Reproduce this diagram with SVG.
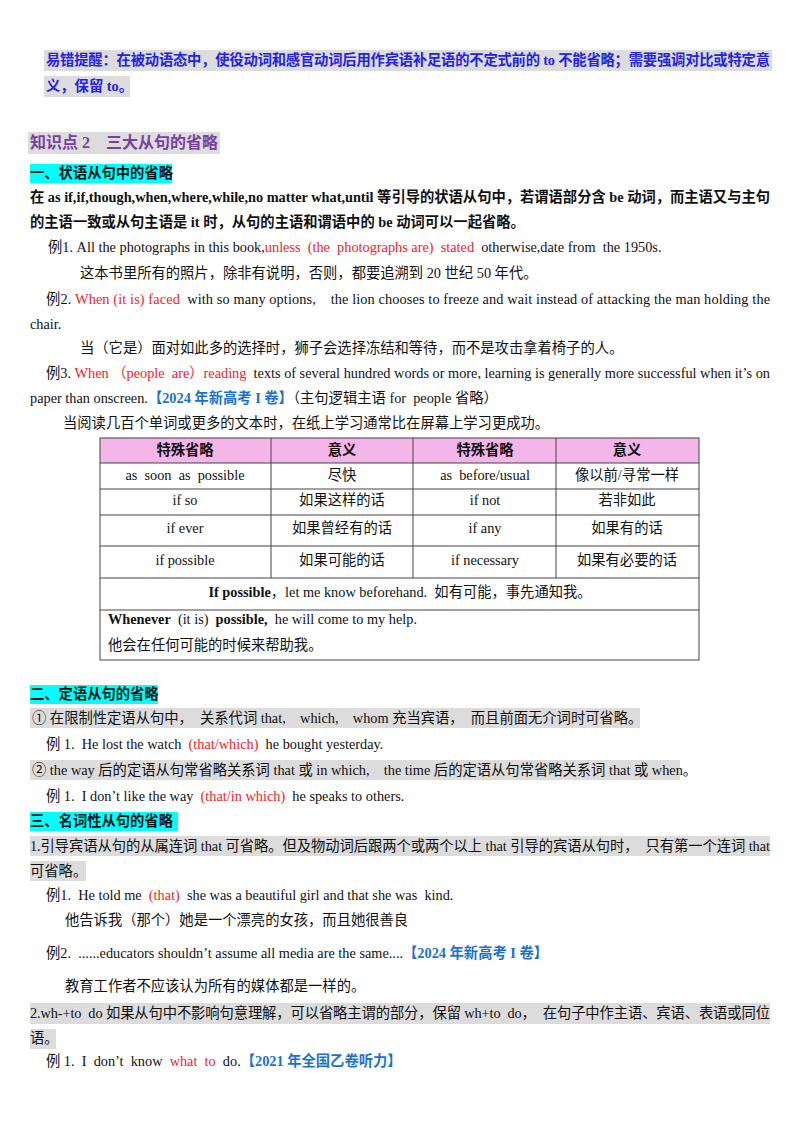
<svg xmlns="http://www.w3.org/2000/svg" width="800" height="1132" viewBox="0 0 800 1132">
<style>
text{font-family:"Liberation Serif","Noto Sans CJK SC",serif;font-size:14.3px;fill:#111;white-space:pre}
.b{font-weight:bold}
.r{fill:#e8262a}
.bl{fill:#1a73c8;font-weight:bold}
.hl{fill:#dcdcdc}
.cy{fill:#00ffff}
.c{text-anchor:middle}
.cell{fill:none;stroke:#444;stroke-width:1}
</style>
<rect width="800" height="1132" fill="#fff"/>
<g id="tip">
<rect class="hl" x="44" y="50" width="728" height="21"/>
<rect class="hl" x="44" y="76" width="86" height="21"/>
<text x="46" y="65" class="b" style="fill:#2323e0" textLength="724" lengthAdjust="spacing">易错提醒：在被动语态中，使役动词和感官动词后用作宾语补足语的不定式前的 to 不能省略；需要强调对比或特定意</text>
<text x="46" y="91" class="b" style="fill:#2323e0">义，保留 to。</text>
</g>
<g id="title">
<rect class="hl" x="28" y="132" width="192" height="22"/>
<text x="30" y="148" class="b" style="fill:#7b3fa0;font-size:16px">知识点 2　三大从句的省略</text>
</g>
<g id="s1">
<rect class="cy" x="30" y="164" width="142" height="19"/>
<text x="30" y="178" class="b">一、状语从句中的省略</text>
<text x="30" y="202" class="b" textLength="740" lengthAdjust="spacing">在 as if,if,though,when,where,while,no matter what,until 等引导的状语从句中，若谓语部分含 be 动词，而主语又与主句</text>
<text x="30" y="227" class="b">的主语一致或从句主语是 it 时，从句的主语和谓语中的 be 动词可以一起省略。</text>
<text x="48" y="252">例1. All the photographs in this book,<tspan class="r">unless  (the  photographs are)  stated</tspan>  otherwise,date from  the 1950s.</text>
<text x="80" y="278">这本书里所有的照片，除非有说明，否则，都要追溯到 20 世纪 50 年代。</text>
<text x="46" y="304" textLength="724" lengthAdjust="spacing">例2. <tspan class="r">When (it is) faced</tspan>  with so many options,    the lion chooses to freeze and wait instead of attacking the man holding the</text>
<text x="30" y="329">chair.</text>
<text x="80" y="353">当（它是）面对如此多的选择时，狮子会选择冻结和等待，而不是攻击拿着椅子的人。</text>
<text x="46" y="378" textLength="724" lengthAdjust="spacing">例3. <tspan class="r">When （people  are）reading</tspan>  texts of several hundred words or more, learning is generally more successful when it’s on</text>
<text x="30" y="403">paper than onscreen.<tspan class="bl">【2024 年新高考 I 卷】</tspan>（主句逻辑主语 for  people 省略）</text>
<text x="63" y="428">当阅读几百个单词或更多的文本时，在纸上学习通常比在屏幕上学习更成功。</text>
</g>
<g id="table">
<rect x="100" y="438" width="599" height="25" fill="#f4b6e8"/>
<rect class="cell" x="100" y="438" width="599" height="222"/>
<path class="cell" d="M100 463H699M100 489H699M100 515H699M100 546H699M100 578H699M100 610H699M271 438V578M413 438V578M556 438V578"/>
<text x="185" y="455" class="c b">特殊省略</text><text x="342" y="455" class="c b">意义</text><text x="485" y="455" class="c b">特殊省略</text><text x="627" y="455" class="c b">意义</text>
<text x="185" y="480" class="c">as  soon  as  possible</text><text x="342" y="480" class="c">尽快</text><text x="485" y="480" class="c">as  before/usual</text><text x="627" y="480" class="c">像以前/寻常一样</text>
<text x="185" y="505" class="c">if so</text><text x="342" y="505" class="c">如果这样的话</text><text x="485" y="505" class="c">if not</text><text x="627" y="505" class="c">若非如此</text>
<text x="185" y="533" class="c">if ever</text><text x="342" y="533" class="c">如果曾经有的话</text><text x="485" y="533" class="c">if any</text><text x="627" y="533" class="c">如果有的话</text>
<text x="185" y="565" class="c">if possible</text><text x="342" y="565" class="c">如果可能的话</text><text x="485" y="565" class="c">if necessary</text><text x="627" y="565" class="c">如果有必要的话</text>
<text x="400" y="597" class="c"><tspan class="b">If possible</tspan>，let me know beforehand.  如有可能，事先通知我。</text>
<text x="108" y="624"><tspan class="b">Whenever</tspan>  (it is)  <tspan class="b">possible,</tspan>  he will come to my help.</text>
<text x="108" y="650">他会在任何可能的时候来帮助我。</text>
</g>
<g id="s2">
<rect class="cy" x="30" y="685" width="128" height="19"/>
<text x="30" y="699" class="b">二、定语从句的省略</text>
<rect class="hl" x="30" y="708" width="610" height="20"/>
<text x="32" y="723">① 在限制性定语从句中，  关系代词 that,    which,    whom 充当宾语，  而且前面无介词时可省略。</text>
<text x="46" y="749">例 1.  He lost the watch  <tspan class="r">(that/which)</tspan>  he bought yesterday.</text>
<rect class="hl" x="30" y="760" width="650" height="20"/>
<text x="32" y="775">② the way 后的定语从句常省略关系词 that 或 in which,    the time 后的定语从句常省略关系词 that 或 when。</text>
<text x="46" y="801">例 1.  I don’t like the way  <tspan class="r">(that/in which)</tspan>  he speaks to others.</text>
</g>
<g id="s3">
<rect class="cy" x="30" y="812" width="148" height="19"/>
<text x="30" y="826" class="b">三、名词性从句的省略</text>
<rect class="hl" x="30" y="836" width="740" height="20"/>
<rect class="hl" x="30" y="861" width="56" height="20"/>
<text x="30" y="851" textLength="740" lengthAdjust="spacing">1.引导宾语从句的从属连词 that 可省略。但及物动词后跟两个或两个以上 that 引导的宾语从句时，  只有第一个连词 that</text>
<text x="30" y="876">可省略。</text>
<text x="46" y="900">例1.  He told me  <tspan class="r">(that)</tspan>  she was a beautiful girl and that she was  kind.</text>
<text x="65" y="925">他告诉我（那个）她是一个漂亮的女孩，而且她很善良</text>
<text x="46" y="958">例2.  ......educators shouldn’t assume all media are the same....<tspan class="bl">【2024 年新高考 I 卷】</tspan></text>
<text x="65" y="991">教育工作者不应该认为所有的媒体都是一样的。</text>
<rect class="hl" x="30" y="1003" width="740" height="21"/>
<rect class="hl" x="30" y="1029" width="26" height="20"/>
<text x="30" y="1018" textLength="740" lengthAdjust="spacing">2.wh-+to  do 如果从句中不影响句意理解，可以省略主谓的部分，保留 wh+to  do，  在句子中作主语、宾语、表语或同位</text>
<text x="30" y="1043">语。</text>
<text x="46" y="1066">例 1.  I  don’t  know  <tspan class="r">what  to</tspan>  do.<tspan class="bl">【2021 年全国乙卷听力】</tspan></text>
</g>
</svg>
